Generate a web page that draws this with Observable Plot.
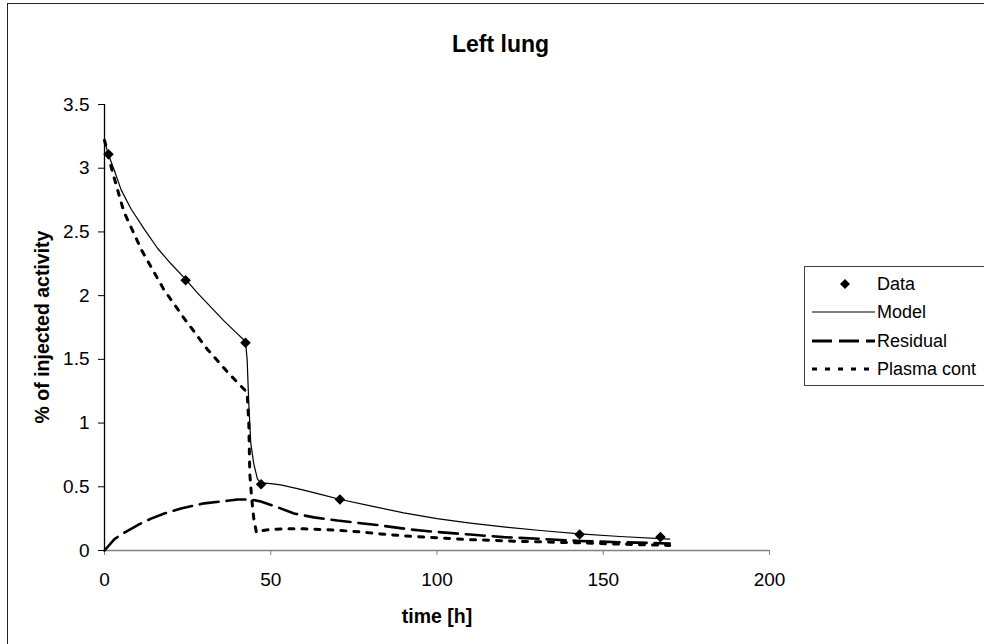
<!DOCTYPE html>
<html>
<head>
<meta charset="utf-8">
<script src="https://cdn.jsdelivr.net/npm/d3@7"></script>
<script src="https://cdn.jsdelivr.net/npm/@observablehq/plot@0.6"></script>
<style>
  body { margin: 0; background: #fff; font-family: "Liberation Sans", Arial, sans-serif; }
  #wrap { position: relative; width: 984px; height: 644px; overflow: hidden; background: #fff; }
  #frame { position: absolute; left: 7px; top: 3px; width: 1200px; height: 1000px; border: 1.5px solid #222; box-sizing: border-box; }
  #chart { position: absolute; left: 0; top: 0; }
  .title { position: absolute; left: 0; width: 1001px; top: 31px; text-align: center; font-weight: bold; font-size: 23px; line-height: 26px; color: #000; }
  .xlabel { position: absolute; left: 337px; width: 200px; top: 605px; text-align: center; font-weight: bold; font-size: 19.5px; line-height: 22px; color: #000; }
  .ylabel { position: absolute; left: 42px; top: 327px; transform: translate(-50%, -50%) rotate(-90deg); white-space: nowrap; font-weight: bold; font-size: 19.5px; line-height: 22px; color: #000; }
  #legend { position: absolute; left: 804px; top: 266px; width: 260px; height: 120px; border: 1px solid #404040; box-sizing: border-box; background: #fff; }
  .row { position: absolute; left: 0; height: 28px; width: 260px; }
  .row svg { position: absolute; left: 7px; top: 0; }
  .row span { position: absolute; left: 72px; top: 3px; font-size: 18px; line-height: 22px; color: #000; white-space: nowrap; }
</style>
</head>
<body>
<div id="wrap">
  <div id="frame"></div>
  <div id="chart"></div>
  <div class="title">Left lung</div>
  <div class="ylabel">% of injected activity</div>
  <div class="xlabel">time [h]</div>
  <div id="legend"></div>
</div>
<script>
// ---- Data ----
const dataTime  = [1.2, 24.4, 42.4, 47.1, 70.8, 142.9, 167.2];
const dataValue = [3.11, 2.12, 1.63, 0.52, 0.40, 0.125, 0.105];

const modelTime  = [0, 1, 3, 5, 8, 12, 16, 20, 24, 28, 32, 36, 40, 42.4, 42.9, 43.4, 44.0, 44.9, 46, 47, 50, 53, 59, 65, 71, 80, 90, 100, 110, 120, 132, 143, 155, 170];
const modelValue = [3.22, 3.12, 2.98, 2.83, 2.68, 2.52, 2.37, 2.25, 2.14, 2.02, 1.91, 1.80, 1.70, 1.64, 1.50, 1.15, 0.84, 0.68, 0.56, 0.53, 0.525, 0.515, 0.48, 0.44, 0.40, 0.35, 0.295, 0.25, 0.215, 0.185, 0.155, 0.13, 0.11, 0.09];

const residualTime  = [0, 3, 6, 10, 14, 18, 23, 30, 37, 40, 44, 47, 52, 57, 63, 70, 82, 92, 100, 110, 120, 132, 143, 155, 170];
const residualValue = [0, 0.09, 0.14, 0.20, 0.25, 0.29, 0.33, 0.37, 0.39, 0.40, 0.40, 0.385, 0.34, 0.29, 0.26, 0.235, 0.20, 0.165, 0.145, 0.125, 0.105, 0.09, 0.075, 0.065, 0.055];

const plasmaTime  = [0, 2.3, 5.8, 11.3, 17.8, 24, 30.9, 37, 42.9, 43.4, 43.7, 44.3, 44.9, 45.7, 47, 50, 55, 60, 69, 75, 83, 90, 97, 110, 125, 143, 155, 170];
const plasmaValue = [3.22, 2.98, 2.66, 2.35, 2.05, 1.82, 1.58, 1.40, 1.24, 1.00, 0.60, 0.40, 0.25, 0.14, 0.155, 0.165, 0.17, 0.17, 0.16, 0.15, 0.13, 0.115, 0.104, 0.085, 0.072, 0.06, 0.05, 0.04];

const xTicks = [0, 50, 100, 150, 200];
const yTicks = [0, 0.5, 1, 1.5, 2, 2.5, 3, 3.5];

const legendLabels = ["Data", "Model", "Residual", "Plasma cont"];

// ---- Build tables ----
const zip = (xs, ys) => xs.map((x, i) => ({x, y: ys[i]}));
const points = zip(dataTime, dataValue);
const model = zip(modelTime, modelValue);
const residual = zip(residualTime, residualValue);
const plasma = zip(plasmaTime, plasmaValue);

const chart = Plot.plot({
  width: 984,
  height: 644,
  marginLeft: 104,
  marginRight: 215,
  marginTop: 104,
  marginBottom: 94,
  style: { fontFamily: "'Liberation Sans', Arial, sans-serif", fontSize: "19px", background: "transparent", overflow: "visible", color: "#000" },
  x: { domain: [0, 200] },
  y: { domain: [0, 3.5] },
  marks: [
    Plot.ruleY([0], { stroke: "#808080", strokeWidth: 1.5 }),
    Plot.ruleX([0], { stroke: "#000", strokeWidth: 1.3 }),
    Plot.axisX({ ticks: xTicks, tickSize: 5, tickPadding: 17, stroke: "#808080", fill: "#000", label: null, tickFormat: d => String(d) }),
    Plot.axisY({ ticks: yTicks, tickSize: 6, tickPadding: 9, stroke: "#000", fill: "#000", label: null, tickFormat: d => String(d) }),
    Plot.line(plasma, { x: "x", y: "y", stroke: "#000", strokeWidth: 3, strokeDasharray: "5,8" }),
    Plot.line(residual, { x: "x", y: "y", stroke: "#000", strokeWidth: 2.6, strokeDasharray: "19,8" }),
    Plot.line(model, { x: "x", y: "y", stroke: "#000", strokeWidth: 1.2 }),
    Plot.dot(points, { x: "x", y: "y", symbol: "square", rotate: 45, r: 4.2, fill: "#000", stroke: "none" })
  ]
});
document.getElementById("chart").appendChild(chart);

// ---- Legend ----
const legend = document.getElementById("legend");
const symbols = [
  '<polygon points="33,9 38,14 33,19 28,14" fill="#000"/>',
  '<line x1="0" y1="14" x2="63" y2="14" stroke="#000" stroke-width="1.2"/>',
  '<line x1="0" y1="14" x2="63" y2="14" stroke="#000" stroke-width="3" stroke-dasharray="20,7"/>',
  '<line x1="0" y1="14" x2="63" y2="14" stroke="#000" stroke-width="3" stroke-dasharray="5,8"/>'
];
legendLabels.forEach((lab, i) => {
  const row = document.createElement("div");
  row.className = "row";
  row.style.top = (3 + i * 28.3) + "px";
  row.innerHTML = '<svg width="64" height="28">' + symbols[i] + '</svg><span>' + lab + '</span>';
  legend.appendChild(row);
});
</script>
</body>
</html>
